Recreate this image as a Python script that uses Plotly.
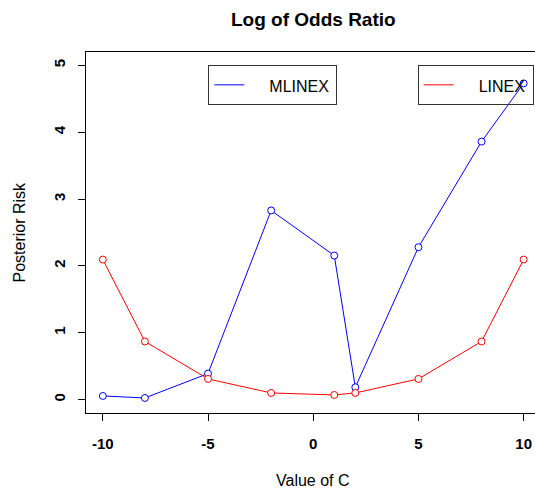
import plotly.graph_objects as go

c_values = [-10, -8, -5, -2, 1, 2, 5, 8, 10]
mlinex = [0.055, 0.025, 0.39, 2.83, 2.155, 0.185, 2.28, 3.86, 4.73]
linex = [2.095, 0.87, 0.31, 0.10, 0.07, 0.10, 0.31, 0.87, 2.095]
x_ticks = [-10, -5, 0, 5, 10]
x_tick_labels = ["-10", "-5", "0", "5", "10"]
y_ticks = [0, 1, 2, 3, 4, 5]
y_tick_labels = ["0", "1", "2", "3", "4", "5"]

FONT = "Liberation Sans, Arial, sans-serif"
BLUE = "#0000FF"
RED = "#FF0000"

fig = go.Figure()
for vals, col in [(mlinex, BLUE), (linex, RED)]:
    fig.add_trace(go.Scatter(
        x=c_values, y=vals, mode="lines+markers", showlegend=False,
        line=dict(color=col, width=1),
        marker=dict(symbol="circle", size=7, color="white",
                    line=dict(color=col, width=1)),
        hoverinfo="skip"))

def legname(s):
    return ('<span style="font-size:18px">\u00a0\u00a0\u00a0\u00a0</span>'
            '<span style="font-size:16px">' + s + '</span>'
            '<span style="font-size:8px">\u00a0</span>')

fig.add_trace(go.Scatter(x=[None], y=[None], mode="lines", name=legname("MLINEX"),
                         line=dict(color=BLUE, width=1), legend="legend"))
fig.add_trace(go.Scatter(x=[None], y=[None], mode="lines", name=legname("LINEX"),
                         line=dict(color=RED, width=1), legend="legend2"))

leg_common = dict(bgcolor="rgba(0,0,0,0)", bordercolor="#333333", borderwidth=1,
                  font=dict(family=FONT, size=19, color="black"),
                  xanchor="left", yanchor="top", itemwidth=30)

fig.update_layout(
    width=535, height=490,
    margin=dict(l=86, r=0, t=52, b=77),
    paper_bgcolor="white", plot_bgcolor="white",
    font=dict(family=FONT, color="black"),
    legend=dict(x=0.2724, y=0.964, **leg_common),
    legend2=dict(x=0.7387, y=0.964, **leg_common),
    xaxis=dict(range=[-10.8, 10.54], tickvals=x_ticks, ticktext=x_tick_labels,
               ticks="outside", ticklabelstandoff=10,
               ticklen=7, tickwidth=1, tickcolor="black",
               showline=True, linecolor="black", linewidth=1, mirror=True,
               showgrid=False, zeroline=False,
               tickfont=dict(family=FONT, size=15, color="black", weight="bold")),
    yaxis=dict(range=[-0.2, 5.2], tickvals=y_ticks, ticktext=y_tick_labels,
               ticks="outside", ticklabelstandoff=7,
               ticklen=7, tickwidth=1, tickcolor="black", tickangle=-90,
               showline=True, linecolor="black", linewidth=1, mirror=False,
               showgrid=False, zeroline=False,
               tickfont=dict(family=FONT, size=15, color="black", weight="bold")),
    annotations=[
        dict(text="<b>Log of Odds Ratio</b>", xref="x", yref="paper", x=0, y=1.0914,
             xanchor="center", yanchor="middle", showarrow=False,
             font=dict(family=FONT, size=19, color="black")),
        dict(text="Value of C", xref="x", yref="paper", x=0, y=-0.1856,
             xanchor="center", yanchor="middle", showarrow=False,
             font=dict(family=FONT, size=16, color="black")),
        dict(text="Posterior Risk", xref="paper", yref="paper", x=-0.1492, y=0.5,
             xanchor="center", yanchor="middle", showarrow=False, textangle=-90,
             font=dict(family=FONT, size=16, color="black")),
    ],
)

fig.write_html("out.html")
